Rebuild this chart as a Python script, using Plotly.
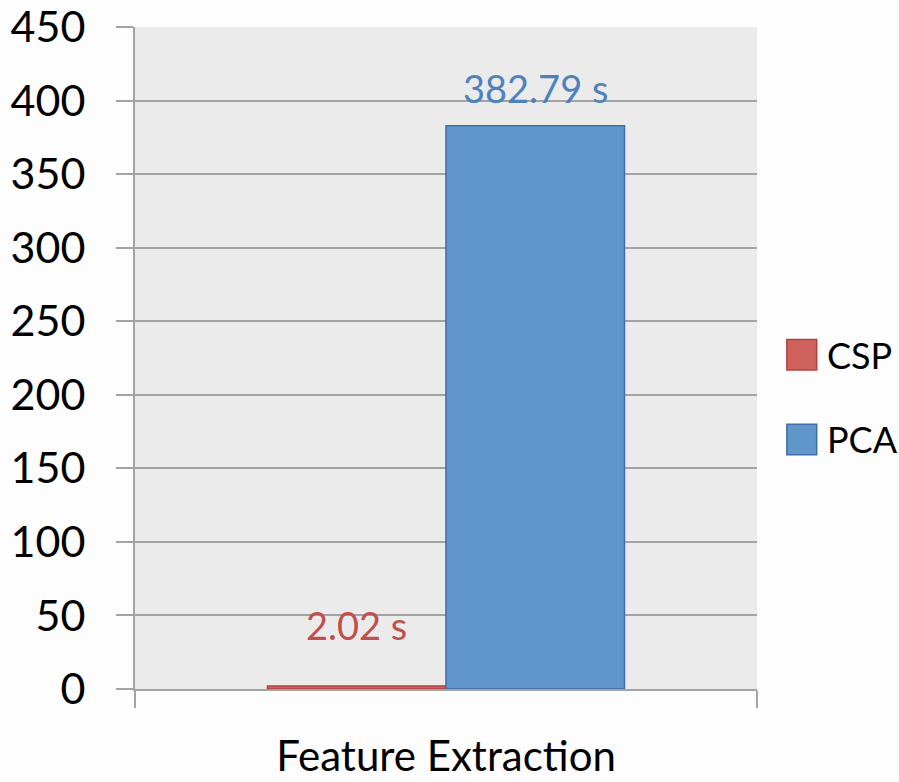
import plotly.graph_objects as go

# Feature-extraction timing, seconds
categories = ["Feature Extraction"]
methods = ["CSP", "PCA"]
csp_seconds = [2.02]
pca_seconds = [382.79]
value_labels = ["2.02 s", "382.79 s"]

y_ticks = list(range(0, 451, 50))

fill_colors = {"CSP": "#d0625e", "PCA": "#6096c9"}
edge_colors = {"CSP": "#b0423f", "PCA": "#3d6ea5"}
text_colors = {"CSP": "#c0504d", "PCA": "#4f81bd"}

FONT = "Lato, Roboto, sans-serif"
BARGAP = 0.426

fig = go.Figure()
for name, vals in zip(methods, [csp_seconds, pca_seconds]):
    fig.add_trace(go.Bar(
        x=categories, y=vals, name=name,
        marker=dict(color=fill_colors[name],
                    line=dict(color=edge_colors[name], width=1.5)),
        showlegend=False,
    ))

# value labels above each bar (group offsets follow the bargap)
bar_w = (1 - BARGAP) / len(methods)
label_shift = [61, 38]
for i, (name, vals) in enumerate(zip(methods, [csp_seconds, pca_seconds])):
    xpos = 0 - (1 - BARGAP) / 2 + bar_w * (i + 0.5)
    fig.add_annotation(
        x=xpos, y=vals[0], xref="x", yref="y",
        text=value_labels[i], showarrow=False,
        yanchor="middle", yshift=label_shift[i],
        font=dict(family=FONT, size=38, color=text_colors[name]),
    )

# legend drawn as swatches + text on the right
legend_y = [0.505, 0.377]
for name, ly in zip(methods, legend_y):
    fig.add_shape(type="rect", xref="paper", yref="paper",
                  x0=1.048, x1=1.096, y0=ly - 0.023, y1=ly + 0.023,
                  fillcolor=fill_colors[name],
                  line=dict(color=edge_colors[name], width=1.5))
    fig.add_annotation(x=1.106, y=ly, xref="paper", yref="paper",
                       text=name, showarrow=False, xanchor="left",
                       yanchor="middle", xshift=2,
                       font=dict(family=FONT, size=36, color="#000000"))

fig.update_layout(
    width=899, height=782,
    margin=dict(l=135, r=142, t=27, b=93),
    paper_bgcolor="#fdfdfd", plot_bgcolor="#ebebeb",
    barmode="group", bargap=BARGAP, bargroupgap=0,
    font=dict(family=FONT, color="#000000"),
)
fig.update_yaxes(
    range=[0, 450], tickvals=y_ticks, ticktext=[str(v) for v in y_ticks],
    showgrid=True, gridcolor="#a3a3a3", gridwidth=2,
    showline=True, linecolor="#a3a3a3", linewidth=2,
    ticks="outside", ticklen=17, tickcolor="#a3a3a3", tickwidth=2,
    tickfont=dict(family=FONT, size=43, color="#000000"),
    zeroline=False, ticklabelstandoff=22, ticklabeloverflow="allow",
    automargin=False,
)
fig.update_xaxes(
    showline=True, linecolor="#a3a3a3", linewidth=2,
    ticks="outside", ticklen=17, tickcolor="#a3a3a3", tickwidth=2,
    tickson="boundaries",
    tickfont=dict(family=FONT, size=42, color="#000000"),
    ticklabelstandoff=30, ticklabeloverflow="allow",
    automargin=False,
)

fig.write_html("out.html")
